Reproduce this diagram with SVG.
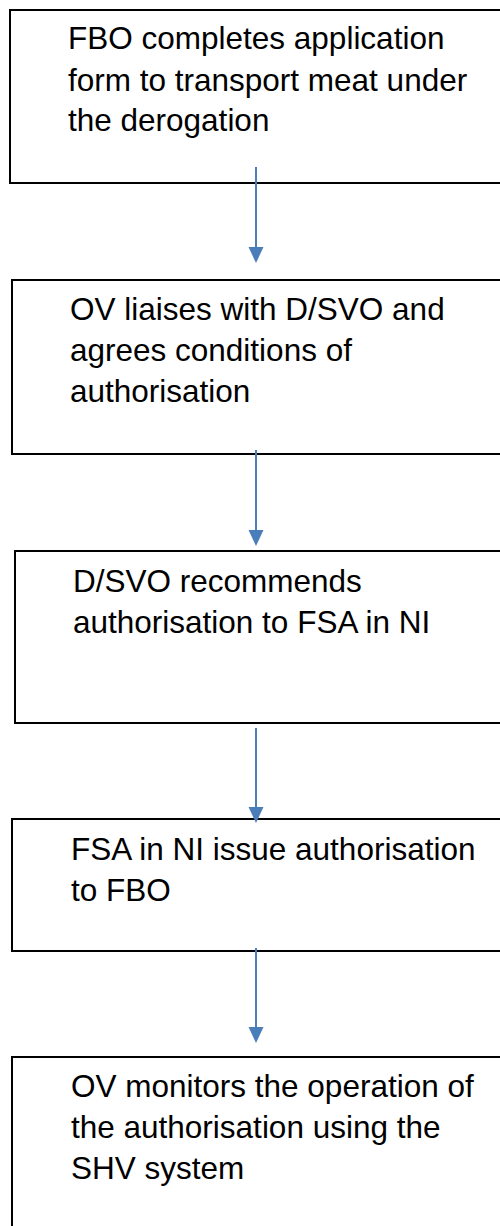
<svg xmlns="http://www.w3.org/2000/svg" width="500" height="1226" viewBox="0 0 500 1226">
<style>
.box{fill:#fff;stroke:#000;stroke-width:2}
.t{font-family:"Liberation Sans",Arial,sans-serif;font-size:31.5px;fill:#000}
.c{stroke:#4a7ebb;stroke-width:2;fill:none}
.h{fill:#4a7ebb}
</style>
<g id="n1">
<rect class="box" x="10" y="10" width="500" height="173"/>
<text class="t" x="68" y="49">FBO completes application</text>
<text class="t" x="68" y="91">form to transport meat under</text>
<text class="t" x="68" y="131">the derogation</text>
</g>
<g id="n2">
<rect class="box" x="12" y="280" width="500" height="174"/>
<text class="t" x="70" y="320">OV liaises with D/SVO and</text>
<text class="t" x="70" y="361">agrees conditions of</text>
<text class="t" x="70" y="402">authorisation</text>
</g>
<g id="n3">
<rect class="box" x="15" y="551" width="500" height="172"/>
<text class="t" x="73" y="592">D/SVO recommends</text>
<text class="t" x="73" y="633">authorisation to FSA in NI</text>
</g>
<g id="n4">
<rect class="box" x="12" y="819" width="500" height="132"/>
<text class="t" x="71" y="860">FSA in NI issue authorisation</text>
<text class="t" x="71" y="901">to FBO</text>
</g>
<g id="n5">
<rect class="box" x="12" y="1057" width="500" height="200"/>
<text class="t" x="71" y="1097">OV monitors the operation of</text>
<text class="t" x="71" y="1138">the authorisation using the</text>
<text class="t" x="71" y="1179">SHV system</text>
</g>
<g id="connectors">
<line class="c" x1="256" y1="167" x2="256" y2="248"/>
<path class="h" d="M248.5,247 L263.5,247 L256,263 Z"/>
<line class="c" x1="256" y1="450" x2="256" y2="531"/>
<path class="h" d="M248.5,530 L263.5,530 L256,546 Z"/>
<line class="c" x1="256" y1="728" x2="256" y2="808"/>
<path class="h" d="M248.5,807 L263.5,807 L256,823 Z"/>
<line class="c" x1="256" y1="948" x2="256" y2="1028"/>
<path class="h" d="M248.5,1027 L263.5,1027 L256,1043 Z"/>
</g>
</svg>
